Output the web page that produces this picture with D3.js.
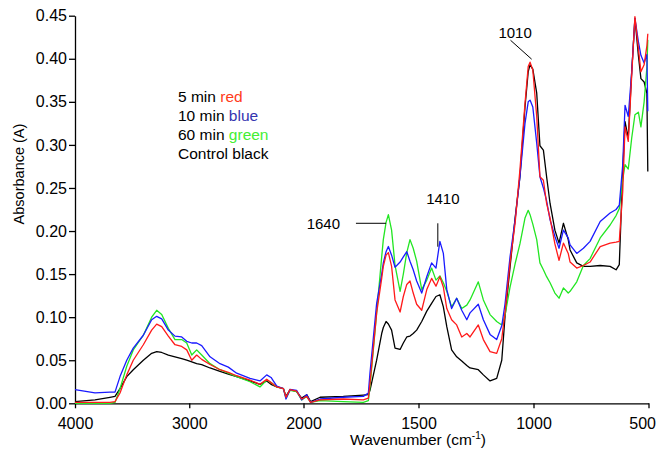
<!DOCTYPE html>
<html>
<head>
<meta charset="utf-8">
<script src="https://cdn.jsdelivr.net/npm/d3@7"></script>
<style>
  body { margin: 0; background: #fff; }
  text { font-family: "Liberation Sans", Arial, Helvetica, sans-serif; }
</style>
</head>
<body>
<div class="chart"></div>
<script>

// Data
const wavenumber = [4000,3825,3694,3650,3606,3547,3490,3402,3329,3285,
  3241,3183,3125,3066,3022,2978,2935,2891,2818,2731,
  2658,2585,2468,2381,2322,2284,2234,2176,2153,2118,
  2060,2016,1986,1969,1928,1827,1740,1718,1711,1682,
  1660,1653,1641,1631,1617,1602,1580,1566,1551,1537,
  1523,1508,1486,1464,1443,1424,1407,1392,1377,1356,
  1334,1312,1290,1276,1240,1218,1189,1160,1138,1124,
  1102,1080,1059,1037,1023,1015,1003,986,972,957,
  943,928,907,889,870,849,841,812,783,754,
  710,667,641,627,612,602,588,573,559,544,
  533,519,507,503];

const min5 = [.001,.001,.001,.002,.012,.033,.050,.068,.085,.092,
  .089,.078,.068,.066,.062,.050,.056,.051,.045,.039,
  .036,.032,.027,.022,.028,.024,.019,.017,.007,.016,
  .014,.005,.008,.001,.004,.005,.004,.006,.023,.105,
  .145,.159,.172,.175,.159,.120,.106,.124,.138,.142,
  .128,.115,.108,.132,.145,.136,.147,.135,.110,.097,
  .091,.077,.081,.077,.091,.074,.060,.058,.075,.105,
  .163,.209,.271,.348,.391,.396,.387,.333,.263,.259,
  .232,.215,.185,.166,.186,.174,.164,.157,.160,.164,
  .182,.186,.187,.188,.246,.321,.304,.381,.449,.412,
  .385,.393,.415,.429];

const min10 = [.016,.012,.013,.013,.031,.050,.064,.079,.097,.101,
  .098,.085,.078,.077,.072,.070,.070,.067,.054,.046,
  .042,.035,.029,.026,.033,.030,.020,.017,.005,.016,
  .015,.004,.010,.001,.005,.007,.008,.012,.035,.116,
  .150,.163,.176,.182,.172,.158,.164,.170,.176,.165,
  .155,.142,.128,.147,.163,.157,.188,.174,.132,.110,
  .122,.108,.097,.105,.115,.097,.080,.074,.090,.115,
  .170,.213,.263,.325,.350,.352,.344,.302,.263,.250,
  .235,.213,.194,.180,.201,.192,.184,.174,.180,.188,
  .211,.221,.225,.230,.277,.346,.333,.385,.447,.420,
  .404,.395,.405,.339];

const min60 = [0,0,0,.001,.017,.043,.062,.079,.100,.108,
  .103,.087,.074,.074,.070,.056,.062,.056,.046,.039,
  .035,.031,.025,.019,.027,.024,.019,.017,.006,.015,
  .0135,.004,.008,.001,.003,.002,.001,.003,.019,.105,
  .170,.190,.210,.219,.201,.160,.130,.150,.175,.190,
  .180,.165,.132,.143,.157,.143,.148,.140,.130,.112,
  .122,.110,.114,.120,.141,.120,.103,.095,.091,.102,
  .135,.162,.185,.215,.224,.219,.208,.190,.163,.155,
  .147,.140,.128,.122,.134,.128,.130,.141,.160,.168,
  .192,.207,.218,.226,.260,.277,.272,.308,.335,.338,
  .321,.350,.390,.422];

const control = [.002,.004,.007,.008,.017,.031,.039,.050,.058,.060,
  .059,.056,.054,.052,.050,.048,.046,.045,.041,.037,
  .034,.031,.026,.022,.026,.022,.019,.017,.008,.016,
  .0135,.006,.010,.002,.007,.008,.0096,.010,.015,.050,
  .081,.088,.095,.092,.085,.064,.0625,.070,.077,.078,
  .081,.085,.095,.107,.116,.124,.126,.112,.089,.062,
  .054,.049,.044,.041,.039,.033,.026,.029,.050,.100,
  .158,.215,.263,.344,.385,.393,.388,.360,.299,.294,
  .263,.232,.201,.186,.209,.190,.178,.163,.159,.159,
  .160,.159,.155,.161,.269,.327,.308,.385,.447,.404,
  .377,.373,.360,.269];

const xTicks = [4000, 3000, 2000, 1500, 1000, 500];
const yTicks = [0, 0.05, 0.10, 0.15, 0.20, 0.25, 0.30, 0.35, 0.40, 0.45];

const series = [
  {name: "Control", values: control, color: "#000000"},
  {name: "60 min", values: min60, color: "#22e622"},
  {name: "10 min", values: min10, color: "#1a1aff"},
  {name: "5 min", values: min5, color: "#ff1a1a"}
];

// Mesures
const size = {width: 658, height: 455};

const svg = d3.select(".chart")
              .append("svg")
              .attr("width", size.width)
              .attr("height", size.height);

// wavenumber axis is compressed above 2000
const x = d3.scaleLinear()
            .domain([4000, 2000, 500])
            .range([75, 303.5, 648.5]);
const y = d3.scaleLinear()
            .domain([0, 0.45])
            .range([403.3, 15.7]);

// axes
const yAxis = svg.append("g")
    .attr("transform", "translate(75,0)")
    .call(d3.axisLeft(y).tickValues(yTicks).tickSize(6).tickSizeOuter(0)
            .tickPadding(2).tickFormat(d3.format(".2f")));
yAxis.selectAll("text").attr("font-size", 16).attr("fill", "#000");

const xAxis = svg.append("g")
    .attr("transform", "translate(0,403.3)")
    .call(d3.axisBottom(x).tickValues(xTicks).tickSize(5).tickSizeOuter(0)
            .tickPadding(9).tickFormat(d3.format("d")));
xAxis.selectAll("text").attr("font-size", 16).attr("fill", "#000");
// last label sits against the right edge
xAxis.selectAll(".tick text")
     .filter(d => d === 500)
     .attr("text-anchor", "end")
     .attr("dx", 7);

svg.selectAll(".domain, .tick line")
   .attr("stroke", "#000")
   .attr("stroke-width", 1.3);

// spectra
const line = d3.line()
    .x((d, i) => x(wavenumber[i]))
    .y(d => y(d));

svg.append("g")
   .selectAll("path")
   .data(series)
   .enter()
   .append("path")
   .attr("d", d => line(d.values))
   .attr("fill", "none")
   .attr("stroke", d => d.color)
   .attr("stroke-width", 1.3)
   .attr("stroke-linejoin", "round");

// axis titles
const xTitle = svg.append("text")
   .attr("x", 418)
   .attr("y", 445)
   .attr("text-anchor", "middle")
   .attr("font-size", 15.5);
xTitle.append("tspan").text("Wavenumber (cm");
xTitle.append("tspan").attr("font-size", 10).attr("dy", -6).text("-1");
xTitle.append("tspan").attr("dy", 6).text(")");

svg.append("text")
   .attr("transform", "translate(24,174) rotate(-90)")
   .attr("text-anchor", "middle")
   .attr("font-size", 14.5)
   .text("Absorbance (A)");

// peak annotations
const notes = [
  {label: "1010", tx: 1080, ty: 0.424, anchor: "middle", line: [[1100, 0.4215], [1008, 0.3995]]},
  {label: "1410", tx: 1394, ty: 0.2314, anchor: "middle", line: [[1416, 0.209], [1416, 0.1818]]},
  {label: "1640", tx: 1841, ty: 0.2018, anchor: "end", line: [[1772, 0.209], [1641, 0.209]]}
];
notes.forEach(n => {
  svg.append("text")
     .attr("x", x(n.tx))
     .attr("y", y(n.ty))
     .attr("text-anchor", n.anchor)
     .attr("font-size", 15)
     .text(n.label);
  svg.append("line")
     .attr("x1", x(n.line[0][0])).attr("y1", y(n.line[0][1]))
     .attr("x2", x(n.line[1][0])).attr("y2", y(n.line[1][1]))
     .attr("stroke", "#000")
     .attr("stroke-width", 1);
});

// legend text
const legend = [
  {time: "5 min ", word: "red", color: "#ff3b1a"},
  {time: "10 min ", word: "blue", color: "#3434b0"},
  {time: "60 min ", word: "green", color: "#44ee33"},
  {time: "Control ", word: "black", color: "#000000"}
];
legend.forEach((l, i) => {
  const t = svg.append("text")
     .attr("x", 178)
     .attr("y", 101.7 + i * 19)
     .attr("font-size", 15.5);
  t.append("tspan").text(l.time);
  t.append("tspan").attr("fill", l.color).text(l.word);
});

</script>
</body>
</html>
